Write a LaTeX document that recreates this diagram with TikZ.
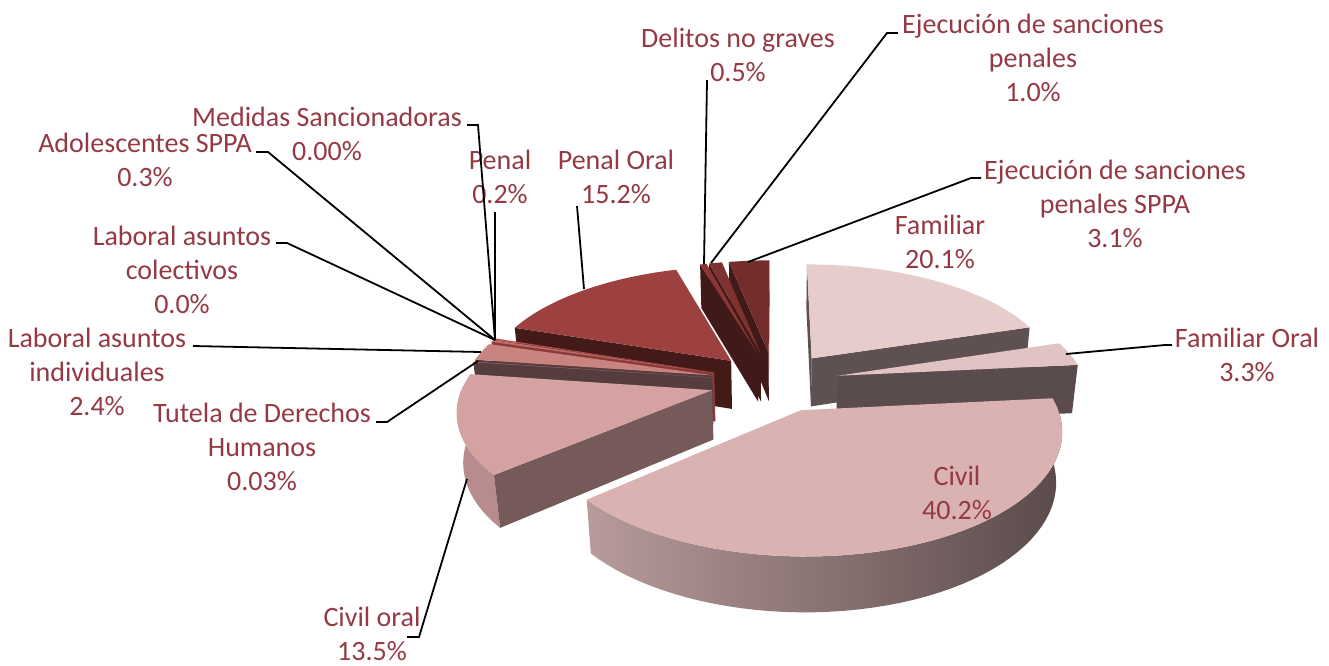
\documentclass[tikz,border=0pt]{standalone}
\usepackage{fontspec}
\setmainfont{Carlito}
\definecolor{lblc}{HTML}{953A44}
\definecolor{cFam}{HTML}{E6CDCC}
\definecolor{cFamS}{HTML}{5F5151}
\definecolor{cFamO}{HTML}{E0C3C2}
\definecolor{cFamOS}{HTML}{5A4C4C}
\definecolor{cCiv}{HTML}{D9B2B1}
\definecolor{cCivL}{HTML}{B89B9B}
\definecolor{cCivM}{HTML}{786161}
\definecolor{cCivR}{HTML}{5A4A4A}
\definecolor{cCo}{HTML}{D4A3A1}
\definecolor{cCoF}{HTML}{765A5A}
\definecolor{cCoO}{HTML}{B88C8C}
\definecolor{cTu}{HTML}{CF9492}
\definecolor{cLi}{HTML}{C98481}
\definecolor{cLiS}{HTML}{553D3D}
\definecolor{cAd}{HTML}{BE6C69}
\definecolor{cAdS}{HTML}{8A3A38}
\definecolor{cPe}{HTML}{B0504E}
\definecolor{cPO}{HTML}{9D4140}
\definecolor{cPOS}{HTML}{441A19}
\definecolor{cDe}{HTML}{8A3636}
\definecolor{cEj}{HTML}{7E3131}
\definecolor{cSP}{HTML}{742C2C}
\definecolor{cDk}{HTML}{3F1A18}
\def\ox{0}\def\oz{0}
\newcommand\Pslice[2]{%
  \pgfmathsetmacro\ox{0.26*sin((#1+#2)/2)}%
  \pgfmathsetmacro\oz{0.26*cos((#1+#2)/2)}}
\newcommand\topface[3]{%
  \fill[#3] ({PX(0,0,0)},{PY(0,0,0)}) -- plot[variable=\vv,domain=#1:#2,samples=40] ({PX(\vv,1,0)},{PY(\vv,1,0)}) -- cycle;}
\newcommand\radface[2]{%
  \fill[#2] ({PX(0,0,0)},{PY(0,0,0)}) -- ({PX(#1,1,0)},{PY(#1,1,0)}) -- ({PX(#1,1,1)},{PY(#1,1,1)}) -- ({PX(0,0,1)},{PY(0,0,1)}) -- cycle;}
\newcommand\outface[3]{%
  \path[#3] plot[variable=\vv,domain=0:1,samples=50] ({PX(#1+\vv*(#2-#1),1,0)},{PY(#1+\vv*(#2-#1),1,0)}) -- plot[variable=\vv,domain=0:1,samples=50] ({PX(#2-\vv*(#2-#1),1,1)},{PY(#2-\vv*(#2-#1),1,1)}) -- cycle;}
\begin{document}
\begin{tikzpicture}[x=1pt,y=-1pt,
  declare function={
    kf(\qz,\qh)=1/(1+0.151*\qz+0.02*\qh);
    PX(\qa,\qr,\qh)=774.7+248*(\ox+\qr*sin(\qa))*kf(\oz+\qr*cos(\qa),\qh);
    PY(\qa,\qr,\qh)=381.7+(-114.7*(\oz+\qr*cos(\qa))+50*\qh)*kf(\oz+\qr*cos(\qa),\qh);
  },
  lbl/.style={text=lblc,align=center,inner sep=0pt,font=\fontsize{28}{34}\selectfont},
  leader/.style={draw=black,line width=1.8pt}]
\useasboundingbox (0,0) rectangle (1329,665);
\fill[white] (0,0) rectangle (1329,665);
% Ejecucion de sanciones penales SPPA
\Pslice{348.82}{360}
\radface{348.82}{cDk}
\radface{360}{cSP}
\topface{348.82}{360}{cSP}
% Ejecucion de sanciones penales
\Pslice{345.21}{348.82}
\radface{345.21}{cDk}
\topface{345.21}{348.82}{cEj}
% Delitos no graves
\Pslice{343.41}{345.21}
\radface{343.41}{cDk}
\topface{343.41}{345.21}{cDe}
% Familiar
\Pslice{0}{72.48}
\radface{0}{cFamS}
\radface{72.48}{cFamS}
\topface{0}{72.48}{cFam}
% Penal Oral
\Pslice{288.60}{343.41}
\radface{288.60}{cPOS}
\topface{288.60}{343.41}{cPO}
% Penal
\Pslice{287.87}{288.60}
\radface{287.87}{cAdS}
\topface{287.87}{288.60}{cPe}
% Adolescentes SPPA
\Pslice{286.79}{287.87}
\radface{286.79}{cAdS}
\topface{286.79}{287.87}{cAd}
% Laboral asuntos individuales
\Pslice{278.14}{286.79}
\radface{278.14}{cLiS}
\topface{278.14}{286.79}{cLi}
% Familiar Oral
\Pslice{72.48}{84.38}
\radface{84.38}{cFamOS}
\topface{72.48}{84.38}{cFamO}
% Tutela
\Pslice{278.03}{278.14}
\radface{278.03}{cLiS}
\topface{278.03}{278.14}{cTu}
% Civil oral
\Pslice{229.35}{278.03}
\outface{229.35}{272}{fill=cCoO}
\radface{229.35}{cCoF}
\topface{229.35}{278.03}{cCo}
% Civil
\Pslice{84.38}{229.35}
\outface{90}{229.35}{left color=cCivL,middle color=cCivM,right color=cCivR}
\topface{84.38}{229.35}{cCiv}
% labels
\node[lbl] (tDel) at (738,55) {Delitos no graves\\0.5\%};
\node[lbl] (tEj) at (1033,58) {Ejecución de sanciones\\penales\\1.0\%};
\node[lbl] (tSP) at (1115,204) {Ejecución de sanciones\\penales SPPA\\3.1\%};
\node[lbl] (tFam) at (940,242) {Familiar\\20.1\%};
\node[lbl] (tFO) at (1247,355) {Familiar Oral\\3.3\%};
\node[lbl] (tCiv) at (957,493) {Civil\\40.2\%};
\node[lbl] (tCo) at (372,634) {Civil oral\\13.5\%};
\node[lbl] (tTu) at (262,447) {Tutela de Derechos\\Humanos\\0.03\%};
\node[lbl] (tLi) at (97,372) {Laboral asuntos\\individuales\\2.4\%};
\node[lbl] (tLc) at (182,270) {Laboral asuntos\\colectivos\\0.0\%};
\node[lbl] (tAd) at (145,160) {Adolescentes SPPA\\0.3\%};
\node[lbl] (tMe) at (327,134) {Medidas Sancionadoras\\0.00\%};
\node[lbl] (tPe) at (500,177) {Penal\\0.2\%};
\node[lbl] (tPO) at (616,177) {Penal Oral\\15.2\%};
% leader end points
\coordinate (eDel) at (704,264);
\coordinate (eEj) at (711,263);
\coordinate (eSP) at (748,262);
\coordinate (eFO) at (1066,354);
\coordinate (eCo) at (467,479);
\coordinate (eTu) at (478,361);
\coordinate (eLi) at (481,352);
\coordinate (eHub) at (495,340);
\coordinate (ePO) at (584,289);
% leaders
\draw[leader] (707,80) -- (eDel);
\draw[leader] (898,33) -- (887,33) -- (eEj);
\draw[leader] (981,178) -- (971,178) -- (eSP);
\draw[leader] (1172,345) -- (1165,345) -- (eFO);
\draw[leader] (407,637) -- (419,637) -- (eCo);
\draw[leader] (376,422) -- (387,422) -- (eTu);
\draw[leader] (193,346) -- (eLi);
\draw[leader] (276,243) -- (287,243) -- (eHub);
\draw[leader] (256,152) -- (268,152) -- (eHub);
\draw[leader] (467,125) -- (478,125) -- (eHub);
\draw[leader] (495,212) -- (eHub);
\draw[leader] (577,206) -- (ePO);
\end{tikzpicture}
\end{document}
